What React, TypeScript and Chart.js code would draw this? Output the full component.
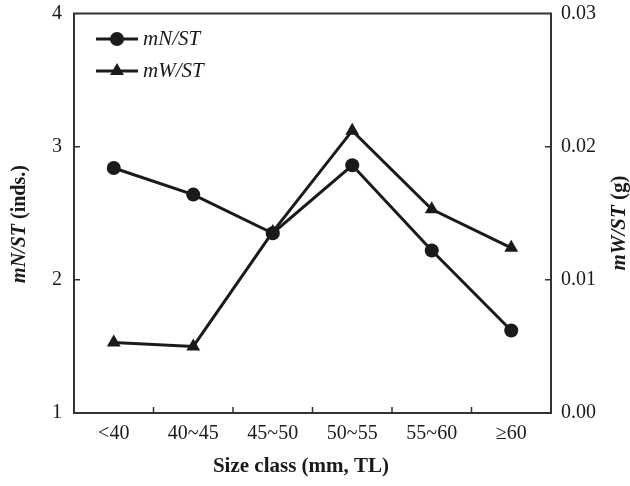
import React, { useEffect, useRef } from "react";
import { Chart, registerables } from "chart.js";

Chart.register(...registerables);

const categories = ["<40", "40~45", "45~50", "50~55", "55~60", "≥60"];
const mNST = [2.84, 2.64, 2.35, 2.86, 2.22, 1.62];
const mWST = [0.0053, 0.005, 0.0136, 0.0212, 0.0153, 0.0124];
const leftTickValues = [2, 3];
const rightTickValues = [0.01, 0.02];
const seriesNames = ["mN/ST", "mW/ST"];

const SERIF = "'Liberation Serif', 'Times New Roman', serif";
const INK = "#1a1a1a";

function drawSegments(ctx: CanvasRenderingContext2D, segs: { t: string; f: string }[], cx: number, cy: number, rot: number) {
  ctx.save();
  ctx.translate(cx, cy);
  ctx.rotate(rot);
  let total = 0;
  for (const s of segs) {
    ctx.font = s.f;
    total += ctx.measureText(s.t).width;
  }
  let x = -total / 2;
  ctx.textBaseline = "middle";
  ctx.textAlign = "left";
  ctx.fillStyle = INK;
  for (const s of segs) {
    ctx.font = s.f;
    ctx.fillText(s.t, x, 0);
    x += ctx.measureText(s.t).width;
  }
  ctx.restore();
}

const decorPlugin = {
  id: "decor",
  afterDraw(chart: any) {
    const ctx: CanvasRenderingContext2D = chart.ctx;
    const { left, right, top, bottom } = chart.chartArea;
    const xs = chart.scales.x;
    const yL = chart.scales.yL;
    const yR = chart.scales.yR;
    ctx.save();
    ctx.strokeStyle = "#333";
    ctx.lineWidth = 2;
    ctx.strokeRect(left, top, right - left, bottom - top);
    ctx.lineWidth = 1.5;
    ctx.beginPath();
    for (let i = 1; i < categories.length; i++) {
      const x = (xs.getPixelForValue(i - 1) + xs.getPixelForValue(i)) / 2;
      ctx.moveTo(x, bottom);
      ctx.lineTo(x, bottom - 6);
    }
    for (const v of leftTickValues) {
      const y = yL.getPixelForValue(v);
      ctx.moveTo(left, y);
      ctx.lineTo(left + 6, y);
    }
    for (const v of rightTickValues) {
      const y = yR.getPixelForValue(v);
      ctx.moveTo(right, y);
      ctx.lineTo(right - 6, y);
    }
    ctx.stroke();
    ctx.restore();

    drawSegments(ctx, [{ t: "Size class (mm, TL)", f: `bold 21px ${SERIF}` }], 301, 467, 0);
    drawSegments(
      ctx,
      [
        { t: "mN/ST", f: `italic bold 20px ${SERIF}` },
        { t: " (inds.)", f: `bold 20px ${SERIF}` },
      ],
      20,
      224,
      -Math.PI / 2
    );
    drawSegments(
      ctx,
      [
        { t: "mW/ST", f: `italic bold 21px ${SERIF}` },
        { t: " (g)", f: `bold 21px ${SERIF}` },
      ],
      620,
      223,
      -Math.PI / 2
    );

    const rows = [
      { y: 39, style: "circle" },
      { y: 71, style: "triangle" },
    ];
    ctx.save();
    rows.forEach((r, i) => {
      ctx.strokeStyle = INK;
      ctx.fillStyle = INK;
      ctx.lineWidth = 3;
      ctx.beginPath();
      ctx.moveTo(96, r.y);
      ctx.lineTo(138, r.y);
      ctx.stroke();
      ctx.beginPath();
      if (r.style === "circle") {
        ctx.arc(117, r.y, 7, 0, Math.PI * 2);
      } else {
        const rad = 8;
        ctx.moveTo(117, r.y - rad);
        ctx.lineTo(117 + rad * Math.sin((2 * Math.PI) / 3), r.y - rad * Math.cos((2 * Math.PI) / 3));
        ctx.lineTo(117 + rad * Math.sin((4 * Math.PI) / 3), r.y - rad * Math.cos((4 * Math.PI) / 3));
        ctx.closePath();
      }
      ctx.fill();
      ctx.font = `italic 21px ${SERIF}`;
      ctx.textBaseline = "middle";
      ctx.textAlign = "left";
      ctx.fillText(seriesNames[i], 143, r.y);
    });
    ctx.restore();
  },
};

export default function App() {
  const ref = useRef<HTMLCanvasElement | null>(null);
  useEffect(() => {
    if (!ref.current) return;
    const chart = new Chart(ref.current, {
      type: "line",
      data: {
        labels: categories,
        datasets: [
          {
            label: seriesNames[0],
            data: mNST,
            yAxisID: "yL",
            borderColor: INK,
            backgroundColor: INK,
            borderWidth: 3,
            pointStyle: "circle",
            pointRadius: 7,
            pointBorderWidth: 0,
            tension: 0,
            clip: false as any,
          },
          {
            label: seriesNames[1],
            data: mWST,
            yAxisID: "yR",
            borderColor: INK,
            backgroundColor: INK,
            borderWidth: 3,
            pointStyle: "triangle",
            pointRadius: 8,
            pointBorderWidth: 0,
            tension: 0,
            clip: false as any,
          },
        ],
      },
      options: {
        animation: false,
        responsive: true,
        maintainAspectRatio: false,
        layout: { padding: { top: 13.5, left: 0, right: 0, bottom: 0 } },
        plugins: { legend: { display: false }, tooltip: { enabled: false } },
        scales: {
          x: {
            type: "category",
            offset: true,
            grid: { display: false, drawTicks: false },
            border: { display: false },
            ticks: { color: INK, font: { family: SERIF, size: 20 }, padding: 9, maxRotation: 0 },
            afterFit: (s: any) => {
              s.height = 73;
              s.paddingLeft = 0;
              s.paddingRight = 0;
            },
          },
          yL: {
            position: "left",
            min: 1,
            max: 4,
            grid: { display: false, drawTicks: false },
            border: { display: false },
            ticks: { stepSize: 1, color: INK, font: { family: SERIF, size: 20 }, padding: 12 },
            afterFit: (s: any) => {
              s.width = 74;
              s.paddingTop = 0;
              s.paddingBottom = 0;
            },
          },
          yR: {
            position: "right",
            min: 0,
            max: 0.03,
            grid: { display: false, drawTicks: false },
            border: { display: false },
            ticks: {
              stepSize: 0.01,
              color: INK,
              font: { family: SERIF, size: 20 },
              padding: 10,
              callback: (v: any) => Number(v).toFixed(2),
            },
            afterFit: (s: any) => {
              s.width = 79;
              s.paddingTop = 0;
              s.paddingBottom = 0;
            },
          },
        },
      } as any,
      plugins: [decorPlugin],
    });
    return () => chart.destroy();
  }, []);
  return (
    <div style={{ position: "absolute", left: 0, top: 0, width: 630, height: 486, background: "#fff" }}>
      <canvas ref={ref} />
    </div>
  );
}
